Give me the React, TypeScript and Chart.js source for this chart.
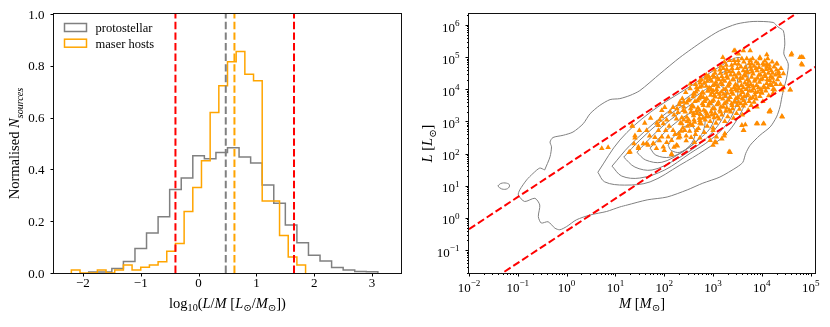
import React, { useEffect, useRef } from 'react';
import { Chart, registerables } from 'chart.js';
Chart.register(...registerables);

const FONT = '"Liberation Serif", "DejaVu Serif", serif';

// ---------------- left panel data ----------------
const protoEdges = [-1.9, -1.7, -1.5, -1.3, -1.1, -0.9, -0.7, -0.5, -0.3, -0.1, 0.1, 0.3, 0.5, 0.7, 0.9, 1.1, 1.3, 1.5, 1.7, 1.9, 2.1, 2.3, 2.5, 2.7, 2.9, 3.1];
const protoHeights = [0.004, 0.004, 0.017, 0.044, 0.095, 0.154, 0.217, 0.322, 0.367, 0.453, 0.441, 0.465, 0.484, 0.448, 0.425, 0.340, 0.269, 0.185, 0.117, 0.069, 0.046, 0.021, 0.012, 0.006, 0.005];
const maserEdges = [-2.2, -2.05, -1.9, -1.75, -1.6, -1.45, -1.3, -1.15, -1.0, -0.85, -0.7, -0.55, -0.4, -0.25, -0.1, 0.05, 0.2, 0.35, 0.5, 0.65, 0.8, 0.95, 1.1, 1.25, 1.4, 1.55, 1.7, 1.85];
const maserHeights = [0.012, 0, 0, 0.012, 0, 0.012, 0.031, 0.012, 0.022, 0.031, 0.043, 0.084, 0.114, 0.237, 0.330, 0.433, 0.620, 0.723, 0.816, 0.855, 0.767, 0.742, 0.278, 0.278, 0.145, 0.062, 0.031];
const ratioLimits = [-0.4, 1.65];
const protoMedian = 0.47;
const maserMedian = 0.62;
const histXTicks = [-2, -1, 0, 1, 2, 3];
const histYTicks = [0, 0.2, 0.4, 0.6, 0.8, 1.0];
const legendLabels = ['protostellar', 'maser hosts'];

// ---------------- right panel data (log10 M, log10 L) ----------------
const massDecades = [-2, -1, 0, 1, 2, 3, 4, 5];
const lumDecades = [-1, 0, 1, 2, 3, 4, 5, 6];
const refLineM = [0.01, 1.3e5];

const contourOuter = [[-0.45, 1.49], [-0.34, 1.90], [-0.31, 2.21], [-0.34, 2.36], [-0.28, 2.50], [-0.07, 2.57], [0.13, 2.67], [0.34, 2.93], [0.48, 3.24], [0.68, 3.50], [0.89, 3.68], [1.09, 3.71], [1.30, 3.81], [1.50, 3.96], [1.91, 4.48], [2.32, 4.99], [2.80, 5.51], [3.13, 5.82], [3.48, 6.03], [3.82, 6.11], [4.23, 6.08], [4.33, 5.94], [4.44, 5.82], [4.47, 5.41], [4.45, 5.10], [4.54, 4.79], [4.51, 4.38], [4.44, 3.96], [4.41, 3.76], [4.37, 3.45], [4.30, 3.14], [4.17, 2.83], [3.96, 2.57], [3.76, 2.26], [3.67, 2.01], [3.61, 1.73], [3.49, 1.58], [3.14, 1.27], [2.79, 1.08], [2.47, 0.87], [2.06, 0.65], [1.65, 0.56], [1.24, 0.40], [1.09, 0.34], [0.82, 0.20], [0.48, 0.09], [0.20, -0.06], [0.00, -0.27], [-0.14, -0.37], [-0.24, -0.32], [-0.38, -0.12], [-0.52, -0.16], [-0.58, 0.04], [-0.55, 0.40], [-0.65, 0.61], [-0.86, 0.51], [-0.99, 0.71], [-0.96, 0.87], [-0.82, 1.18], [-0.69, 1.38], [-0.55, 1.55], [-0.45, 1.49]];
const contourIsland = [[-1.41, 0.99], [-1.35, 1.07], [-1.23, 1.08], [-1.17, 1.02], [-1.21, 0.91], [-1.33, 0.90], [-1.41, 0.99]];
const contour2 = [[0.64, 1.42], [1.09, 2.42], [1.71, 3.28], [2.53, 4.09], [3.14, 4.71], [3.51, 4.99], [3.67, 4.80], [3.72, 4.27], [3.67, 3.65], [3.51, 3.10], [3.24, 2.57], [2.83, 2.11], [2.32, 1.64], [1.71, 1.12], [1.19, 1.02], [0.78, 1.12], [0.64, 1.42]];
const contour3 = [[0.93, 1.61], [1.30, 2.26], [1.91, 3.10], [2.53, 3.81], [2.98, 4.33], [3.31, 4.58], [3.47, 4.43], [3.51, 3.96], [3.45, 3.41], [3.26, 2.88], [2.94, 2.42], [2.53, 2.01], [2.01, 1.49], [1.50, 1.24], [1.13, 1.30], [0.93, 1.61]];
const contour4 = [[1.17, 1.89], [1.50, 2.42], [2.01, 3.10], [2.53, 3.65], [3.04, 4.15], [3.22, 4.03], [3.29, 3.65], [3.22, 3.19], [3.02, 2.72], [2.69, 2.26], [2.22, 1.80], [1.75, 1.49], [1.40, 1.58], [1.17, 1.89]];
const contour5 = [[1.44, 2.04], [1.81, 2.63], [2.22, 3.16], [2.79, 3.72], [2.98, 3.56], [3.04, 3.25], [2.94, 2.79], [2.69, 2.42], [2.36, 2.04], [1.95, 1.73], [1.62, 1.80], [1.44, 2.04]];
const contour6 = [[1.71, 2.17], [2.01, 2.66], [2.36, 3.10], [2.65, 3.31], [2.81, 3.16], [2.83, 2.88], [2.73, 2.51], [2.49, 2.17], [2.12, 1.89], [1.83, 1.95], [1.71, 2.17]];
const contour7 = [[2.08, 2.26], [2.22, 2.57], [2.47, 2.88], [2.61, 2.79], [2.63, 2.57], [2.53, 2.26], [2.32, 2.04], [2.14, 2.10], [2.08, 2.26]];

const maserMassLum = [
  [0.72, 2.16], [0.85, 2.19], [1.34, 2.86], [1.40, 2.56], [1.38, 2.31], [1.28, 2.04], [1.47, 2.21], [1.57, 2.31], [1.49, 2.72], [1.64, 2.72],
  [1.67, 2.26], [1.78, 2.31], [1.84, 2.16], [1.81, 2.50], [1.88, 2.72], [1.95, 2.52], [1.98, 2.93], [1.91, 3.05], [2.03, 2.72],
  [2.15, 1.99], [2.25, 2.26], [2.15, 2.41], [2.08, 2.52], [2.18, 2.72], [2.32, 2.52], [2.42, 2.72], [2.36, 2.93], [2.25, 3.08], [2.46, 3.13],
  [2.60, 3.24], [2.53, 2.93], [2.66, 2.72], [2.73, 3.03], [2.39, 3.34], [2.18, 3.44], [2.32, 3.60], [2.49, 3.65], [2.60, 3.86], [2.73, 4.07],
  [2.80, 3.75], [2.94, 3.55], [3.00, 3.96], [2.87, 3.24], [3.00, 2.72], [2.94, 2.41], [3.07, 2.52], [1.95, 3.34], [2.01, 3.44], [2.53, 4.17],
  [2.73, 4.27], [2.87, 4.38], [3.00, 4.43],
  [3.20, 4.99], [3.43, 5.20], [3.52, 5.10], [3.76, 5.20], [4.10, 5.08], [4.60, 5.07], [4.78, 4.99], [4.84, 4.99], [4.83, 4.76], [4.58, 3.98],
  [4.44, 4.05], [4.42, 3.14], [4.15, 3.31], [4.04, 2.93], [3.91, 2.93], [3.66, 2.90], [3.63, 2.72], [3.33, 2.06], [3.23, 2.55], [3.06, 2.34],
  [2.73, 2.49], [2.29, 2.49], [2.15, 1.97], [2.27, 2.24], [1.30, 2.05], [1.40, 2.49], [1.47, 2.16], [1.64, 2.31], [1.77, 2.31], [1.35, 2.85],
  [1.88, 2.88], [1.98, 2.21],
  [4.61, 5.11], [4.81, 5.00], [4.81, 4.79], [4.44, 4.49], [4.58, 3.99], [4.41, 3.16], [4.16, 3.30], [4.03, 2.93], [3.89, 2.93], [3.62, 2.72],
  [3.59, 2.88], [3.35, 2.04], [3.24, 2.62], [3.18, 2.46], [3.04, 2.36], [3.00, 2.26], [4.34, 4.49], [4.41, 3.98], [4.23, 3.88], [4.17, 3.34],
  [4.30, 4.79], [4.10, 4.79], [3.96, 4.99], [3.79, 4.79], [3.62, 5.20], [3.45, 5.20],
  [1.60, 2.95], [1.72, 3.10], [1.85, 2.95], [1.95, 3.15], [2.05, 3.05], [2.10, 2.85], [2.20, 3.20], [2.22, 2.60], [2.35, 2.70], [2.40, 3.05],
  [2.48, 2.85], [2.55, 3.30], [2.12, 3.30], [2.26, 3.40], [2.40, 3.60], [2.05, 2.35], [2.20, 2.20], [2.45, 2.40], [2.55, 2.50], [2.62, 2.35],
  [1.70, 2.55], [1.90, 2.40], [2.00, 2.10],
  [2.30, 2.62], [2.33, 2.95], [2.28, 3.28], [2.31, 3.52],
  [2.38, 2.80], [2.36, 3.12], [2.40, 3.45], [2.37, 3.71],
  [2.45, 2.55], [2.47, 3.00], [2.43, 3.30], [2.46, 3.58], [2.44, 3.90],
  [2.52, 2.70], [2.50, 3.05], [2.54, 3.40], [2.51, 3.68], [2.53, 4.02],
  [2.58, 2.88], [2.60, 3.18], [2.57, 3.50], [2.59, 3.77],
  [2.64, 2.60], [2.62, 2.98], [2.66, 3.33], [2.63, 3.62], [2.65, 3.92], [2.64, 4.15],
  [2.70, 2.78], [2.72, 3.10], [2.69, 3.42], [2.71, 3.70], [2.68, 3.98],
  [2.76, 2.92], [2.74, 3.22], [2.78, 3.55], [2.75, 3.80], [2.77, 4.10], [2.76, 4.30],
  [2.82, 2.66], [2.84, 3.05], [2.81, 3.35], [2.83, 3.62], [2.80, 3.88], [2.82, 4.20],
  [2.88, 2.85], [2.86, 3.15], [2.90, 3.48], [2.87, 3.72], [2.89, 3.95], [2.88, 4.25], [2.86, 4.45],
  [2.94, 3.00], [2.96, 3.30], [2.93, 3.58], [2.95, 3.82], [2.92, 4.05], [2.94, 4.32],
  [3.00, 2.80], [3.02, 3.12], [2.99, 3.40], [3.01, 3.66], [2.98, 3.90], [3.00, 4.12], [3.02, 4.38],
  [3.06, 2.95], [3.04, 3.25], [3.08, 3.52], [3.05, 3.76], [3.07, 4.00], [3.06, 4.22], [3.04, 4.50],
  [3.12, 3.08], [3.14, 3.35], [3.11, 3.60], [3.13, 3.85], [3.10, 4.08], [3.12, 4.30], [3.14, 4.60],
  [3.18, 3.20], [3.16, 3.45], [3.20, 3.70], [3.17, 3.92], [3.19, 4.15], [3.18, 4.40], [3.16, 4.72],
  [3.24, 3.00], [3.26, 3.32], [3.23, 3.55], [3.25, 3.78], [3.22, 4.00], [3.24, 4.25], [3.26, 4.50], [3.23, 4.85],
  [3.30, 3.15], [3.28, 3.42], [3.32, 3.66], [3.29, 3.88], [3.31, 4.10], [3.30, 4.35], [3.28, 4.62],
  [3.36, 3.30], [3.38, 3.55], [3.35, 3.75], [3.37, 3.98], [3.34, 4.20], [3.36, 4.45], [3.38, 4.75],
  [3.42, 3.10], [3.40, 3.40], [3.44, 3.62], [3.41, 3.85], [3.43, 4.06], [3.42, 4.30], [3.40, 4.55], [3.43, 4.90],
  [3.48, 3.25], [3.50, 3.50], [3.47, 3.72], [3.49, 3.95], [3.46, 4.15], [3.48, 4.38], [3.50, 4.65],
  [3.54, 3.38], [3.52, 3.60], [3.56, 3.82], [3.53, 4.02], [3.55, 4.25], [3.54, 4.48], [3.52, 4.78],
  [3.60, 3.20], [3.62, 3.48], [3.59, 3.70], [3.61, 3.90], [3.58, 4.12], [3.60, 4.35], [3.62, 4.58], [3.59, 4.95],
  [3.66, 3.55], [3.64, 3.78], [3.68, 4.00], [3.65, 4.20], [3.67, 4.42], [3.66, 4.68],
  [3.72, 3.35], [3.74, 3.62], [3.71, 3.85], [3.73, 4.08], [3.70, 4.30], [3.72, 4.52], [3.74, 4.80],
  [3.78, 3.50], [3.76, 3.72], [3.80, 3.95], [3.77, 4.15], [3.79, 4.38], [3.78, 4.62], [3.76, 4.90],
  [3.84, 3.60], [3.86, 3.82], [3.83, 4.02], [3.85, 4.25], [3.82, 4.48], [3.84, 4.72],
  [3.90, 3.45], [3.88, 3.70], [3.92, 3.92], [3.89, 4.12], [3.91, 4.35], [3.90, 4.58], [3.88, 4.85],
  [3.96, 3.78], [3.98, 4.00], [3.95, 4.22], [3.97, 4.45], [3.94, 4.68], [3.96, 4.95],
  [4.02, 3.62], [4.00, 3.88], [4.04, 4.10], [4.01, 4.32], [4.03, 4.55], [4.02, 4.80],
  [4.08, 3.95], [4.10, 4.18], [4.07, 4.40], [4.09, 4.62], [4.06, 4.88],
  [4.14, 3.80], [4.12, 4.05], [4.16, 4.28], [4.13, 4.50], [4.15, 4.75],
  [4.20, 4.12], [4.22, 4.35], [4.19, 4.58], [4.21, 4.85],
  [4.26, 3.98], [4.24, 4.22], [4.28, 4.45], [4.25, 4.70],
  [4.32, 4.30], [4.34, 4.55], [4.31, 4.80],
  [4.38, 4.15], [4.36, 4.40], [4.39, 4.65],
  [2.61, 3.05], [2.60, 3.45], [2.62, 3.85], [2.67, 3.25], [2.68, 3.65], [2.66, 4.05],
  [2.73, 2.95], [2.72, 3.35], [2.74, 3.75], [2.73, 4.20], [2.79, 3.10], [2.80, 3.50], [2.78, 3.90],
  [2.85, 3.30], [2.84, 3.68], [2.86, 4.10], [2.85, 4.35], [2.91, 3.15], [2.92, 3.55], [2.90, 3.95], [2.91, 4.40],
  [2.97, 3.20], [2.98, 3.62], [2.96, 4.00], [2.97, 4.25], [3.03, 3.40], [3.02, 3.80], [3.04, 4.15], [3.03, 4.60],
  [3.09, 3.15], [3.10, 3.55], [3.08, 3.90], [3.09, 4.35], [3.15, 3.30], [3.14, 3.75], [3.16, 4.20], [3.15, 4.50],
  [3.21, 3.45], [3.22, 3.85], [3.20, 4.30], [3.21, 4.65], [3.27, 3.60], [3.26, 4.00], [3.28, 4.40], [3.27, 4.75],
  [3.33, 3.35], [3.34, 3.75], [3.32, 4.15], [3.33, 4.55], [3.34, 4.90], [3.39, 3.50], [3.38, 3.90], [3.40, 4.30], [3.39, 4.65],
  [3.45, 3.60], [3.46, 4.00], [3.44, 4.45], [3.45, 4.80], [3.51, 3.75], [3.50, 4.10], [3.52, 4.50], [3.51, 4.90],
  [3.57, 3.55], [3.58, 3.95], [3.56, 4.35], [3.57, 4.70], [3.63, 3.65], [3.62, 4.05], [3.64, 4.45], [3.63, 4.85],
  [3.69, 3.80], [3.70, 4.15], [3.68, 4.55], [3.69, 4.95], [3.75, 3.95], [3.74, 4.25], [3.76, 4.70],
  [3.81, 3.75], [3.82, 4.10], [3.80, 4.55], [3.81, 4.95], [3.87, 3.90], [3.86, 4.30], [3.88, 4.65],
  [3.93, 4.05], [3.94, 4.45], [3.92, 4.80], [3.99, 3.90], [3.98, 4.30], [4.00, 4.60],
  [4.05, 4.05], [4.06, 4.45], [4.04, 4.75], [4.11, 4.30], [4.10, 4.70], [4.12, 4.95],
  [4.17, 4.15], [4.18, 4.40], [4.16, 4.65], [4.23, 4.00], [4.22, 4.50], [4.29, 4.15], [4.30, 4.60],
];

// ---------------- helpers ----------------
type Seg = [string, string?];

function drawRich(ctx: CanvasRenderingContext2D, segs: Seg[], x: number, y: number, align: string, size: number) {
  const parts = segs.map(([t, st = '']) => {
    const sub = st.includes('s');
    const sup = st.includes('p');
    const it = st.includes('i');
    const sz = sub || sup ? size * 0.7 : size;
    const font = `${it ? 'italic ' : ''}${sz}px ${FONT}`;
    ctx.font = font;
    return { t, font, w: ctx.measureText(t).width, dy: sub ? size * 0.25 : sup ? -size * 0.42 : 0 };
  });
  const total = parts.reduce((s, p) => s + p.w, 0);
  let cx = align === 'center' ? x - total / 2 : align === 'right' ? x - total : x;
  ctx.textAlign = 'left';
  ctx.textBaseline = 'alphabetic';
  for (const p of parts) {
    ctx.font = p.font;
    ctx.fillText(p.t, cx, y + p.dy);
    cx += p.w;
  }
}

const minus = (v: number) => (v < 0 ? '\u2212' + Math.abs(v) : String(v));

const decorPlugin = {
  id: 'decor',
  afterDraw(chart: any, _args: any, o: any) {
    const { ctx, chartArea: a, scales } = chart;
    const xs = scales.x;
    const ys = scales.y;
    ctx.save();
    ctx.fillStyle = '#000';
    ctx.strokeStyle = '#000';
    ctx.lineWidth = 1;
    for (const t of o.xTicks) {
      const p = xs.getPixelForValue(t.v);
      const px = Math.round(p) + 0.5;
      ctx.beginPath();
      ctx.moveTo(px, a.bottom);
      ctx.lineTo(px, a.bottom + (t.minor ? 2 : 3.5));
      ctx.stroke();
      if (t.segs) drawRich(ctx, t.segs, p, a.bottom + o.xLabelDy, 'center', o.tickSize);
    }
    for (const t of o.yTicks) {
      const p = ys.getPixelForValue(t.v);
      const py = Math.round(p) + 0.5;
      ctx.beginPath();
      ctx.moveTo(a.left, py);
      ctx.lineTo(a.left - (t.minor ? 2 : 3.5), py);
      ctx.stroke();
      if (t.segs) drawRich(ctx, t.segs, a.left - 9.5, p + o.yLabelDy, 'right', o.tickSize);
    }
    ctx.strokeStyle = '#111';
    ctx.strokeRect(Math.round(a.left) - 0.5, Math.round(a.top) - 0.5, Math.round(a.right - a.left) + 1, Math.round(a.bottom - a.top) + 1);
    drawRich(ctx, o.xTitle, (a.left + a.right) / 2, a.bottom + o.xTitleDy, 'center', o.titleSize);
    ctx.save();
    ctx.translate(o.yTitleX, (a.top + a.bottom) / 2);
    ctx.rotate(-Math.PI / 2);
    drawRich(ctx, o.yTitle, 0, 5, 'center', o.titleSize);
    ctx.restore();
    if (o.legend) {
      o.legend.forEach((it: any, i: number) => {
        const y0 = a.top + 9.5 + i * 15.7;
        ctx.strokeStyle = it.color;
        ctx.lineWidth = 1.5;
        ctx.strokeRect(a.left + 10.5, y0, 22, 8);
        ctx.fillStyle = '#000';
        drawRich(ctx, [[it.label]], a.left + 41.5, y0 + 8.5, 'left', 12.5);
      });
    }
    ctx.restore();
  },
};

function stepPoints(edges: number[], heights: number[]) {
  const pts = [{ x: edges[0], y: 0 }];
  heights.forEach((h, i) => pts.push({ x: edges[i], y: h }));
  pts.push({ x: edges[edges.length - 1], y: 0 });
  return pts;
}

const vline = (x: number, color: string) => ({
  data: [{ x, y: 0 }, { x, y: 1 }],
  borderColor: color,
  borderWidth: 2,
  borderDash: [7.4, 3.2],
  pointRadius: 0,
  order: 0,
});

const toLin = (arr: number[][]) => arr.map(([m, l]) => ({ x: Math.pow(10, m), y: Math.pow(10, l) }));

const contourSet = (arr: number[][], tension: number) => ({
  data: toLin(arr),
  borderColor: '#808080',
  borderWidth: 1,
  pointRadius: 0,
  tension,
  order: 3,
});

const supLabel = (k: number): Seg[] => [['10'], [minus(k), 'p']];

function logTicks(decades: number[], lo: number, hi: number) {
  const out: any[] = [];
  for (let k = Math.floor(Math.log10(lo)); k <= Math.ceil(Math.log10(hi)); k++) {
    for (let j = 1; j <= 9; j++) {
      const v = j * Math.pow(10, k);
      if (v < lo * 0.999 || v > hi * 1.001) continue;
      if (j === 1 && decades.includes(k)) out.push({ v, segs: supLabel(k) });
      else out.push({ v, minor: j !== 1 });
    }
  }
  return out;
}

const baseScale = (extra: any) => ({
  ticks: { display: false },
  grid: { display: false },
  border: { display: false },
  ...extra,
});

export default function App() {
  const leftRef = useRef<HTMLCanvasElement>(null);
  const rightRef = useRef<HTMLCanvasElement>(null);

  useEffect(() => {
    const left = new Chart(leftRef.current as HTMLCanvasElement, {
      type: 'line',
      data: {
        datasets: [
          vline(ratioLimits[0], 'red'),
          vline(ratioLimits[1], 'red'),
          vline(protoMedian, 'gray'),
          vline(maserMedian, 'orange'),
          { data: stepPoints(maserEdges, maserHeights), stepped: true, borderColor: 'orange', borderWidth: 1.5, pointRadius: 0, order: 1 },
          { data: stepPoints(protoEdges, protoHeights), stepped: true, borderColor: 'gray', borderWidth: 1.5, pointRadius: 0, order: 2 },
        ] as any,
      },
      options: {
        responsive: false,
        animation: false,
        events: [],
        layout: { padding: { left: 0, right: 14, top: 14, bottom: 0 } },
        scales: {
          x: baseScale({ type: 'linear', min: -2.5, max: 3.5, afterFit: (s: any) => { s.height = 54; } }),
          y: baseScale({ type: 'linear', min: 0, max: 1, afterFit: (s: any) => { s.width = 54; } }),
        },
        plugins: {
          legend: { display: false },
          tooltip: { enabled: false },
          decor: {
            xTicks: histXTicks.map((v) => ({ v, segs: [[minus(v)]] })),
            yTicks: histYTicks.map((v) => ({ v, segs: [[v.toFixed(1)]] })),
            xLabelDy: 13.7,
            yLabelDy: 4.6,
            tickSize: 13,
            titleSize: 14.5,
            xTitle: [['log'], ['10', 's'], ['('], ['L', 'i'], ['/'], ['M', 'i'], [' ['], ['L', 'i'], ['\u2299', 's'], ['/'], ['M', 'i'], ['\u2299', 's'], ['])']],
            xTitleDy: 34.5,
            yTitle: [['Normalised '], ['N', 'i'], ['sources', 'si']],
            yTitleX: 14,
            legend: [
              { label: legendLabels[0], color: 'gray' },
              { label: legendLabels[1], color: 'orange' },
            ],
          },
        } as any,
      },
      plugins: [decorPlugin],
    } as any);

    const right = new Chart(rightRef.current as HTMLCanvasElement, {
      type: 'line',
      data: {
        datasets: [
          { data: refLineM.map((m) => ({ x: m, y: m * Math.pow(10, ratioLimits[1]) })), borderColor: 'red', borderWidth: 2, borderDash: [7.4, 3.2], pointRadius: 0, order: 0 },
          { data: refLineM.map((m) => ({ x: m, y: m * Math.pow(10, ratioLimits[0]) })), borderColor: 'red', borderWidth: 2, borderDash: [7.4, 3.2], pointRadius: 0, order: 0 },
          { data: toLin(maserMassLum), showLine: false, pointStyle: 'triangle', pointRadius: 3.2, pointBackgroundColor: '#ff8c00', pointBorderWidth: 0, borderColor: '#ff8c00', order: 1 },
          contourSet(contourOuter, 0.25),
          contourSet(contourIsland, 0.4),
          contourSet(contour2, 0.35),
          contourSet(contour3, 0.35),
          contourSet(contour4, 0.35),
          contourSet(contour5, 0.35),
          contourSet(contour6, 0.35),
          contourSet(contour7, 0.35),
        ] as any,
      },
      options: {
        responsive: false,
        animation: false,
        events: [],
        layout: { padding: { left: 0, right: 15, top: 14, bottom: 0 } },
        scales: {
          x: baseScale({ type: 'logarithmic', min: 0.01, max: 1.225e5, afterFit: (s: any) => { s.height = 54; } }),
          y: baseScale({ type: 'logarithmic', min: 0.0193, max: 2.2e6, afterFit: (s: any) => { s.width = 54; } }),
        },
        plugins: {
          legend: { display: false },
          tooltip: { enabled: false },
          decor: {
            xTicks: logTicks(massDecades, 0.01, 1.225e5),
            yTicks: logTicks(lumDecades, 0.0193, 2.2e6),
            xLabelDy: 18.5,
            yLabelDy: 6.6,
            tickSize: 13,
            titleSize: 14.5,
            xTitle: [['M', 'i'], [' ['], ['M', 'i'], ['\u2299', 's'], [']']],
            xTitleDy: 34.5,
            yTitle: [['L', 'i'], [' ['], ['L', 'i'], ['\u2299', 's'], [']']],
            yTitleX: 12,
          },
        } as any,
      },
      plugins: [decorPlugin],
    } as any);

    return () => {
      left.destroy();
      right.destroy();
    };
  }, []);

  return (
    <div style={{ position: 'absolute', left: 0, top: 0, width: 830, height: 327, background: '#fff' }}>
      <canvas ref={leftRef} width={415} height={327} style={{ position: 'absolute', left: 0, top: 0, width: 415, height: 327 }} />
      <canvas ref={rightRef} width={415} height={327} style={{ position: 'absolute', left: 415, top: 0, width: 415, height: 327 }} />
    </div>
  );
}
